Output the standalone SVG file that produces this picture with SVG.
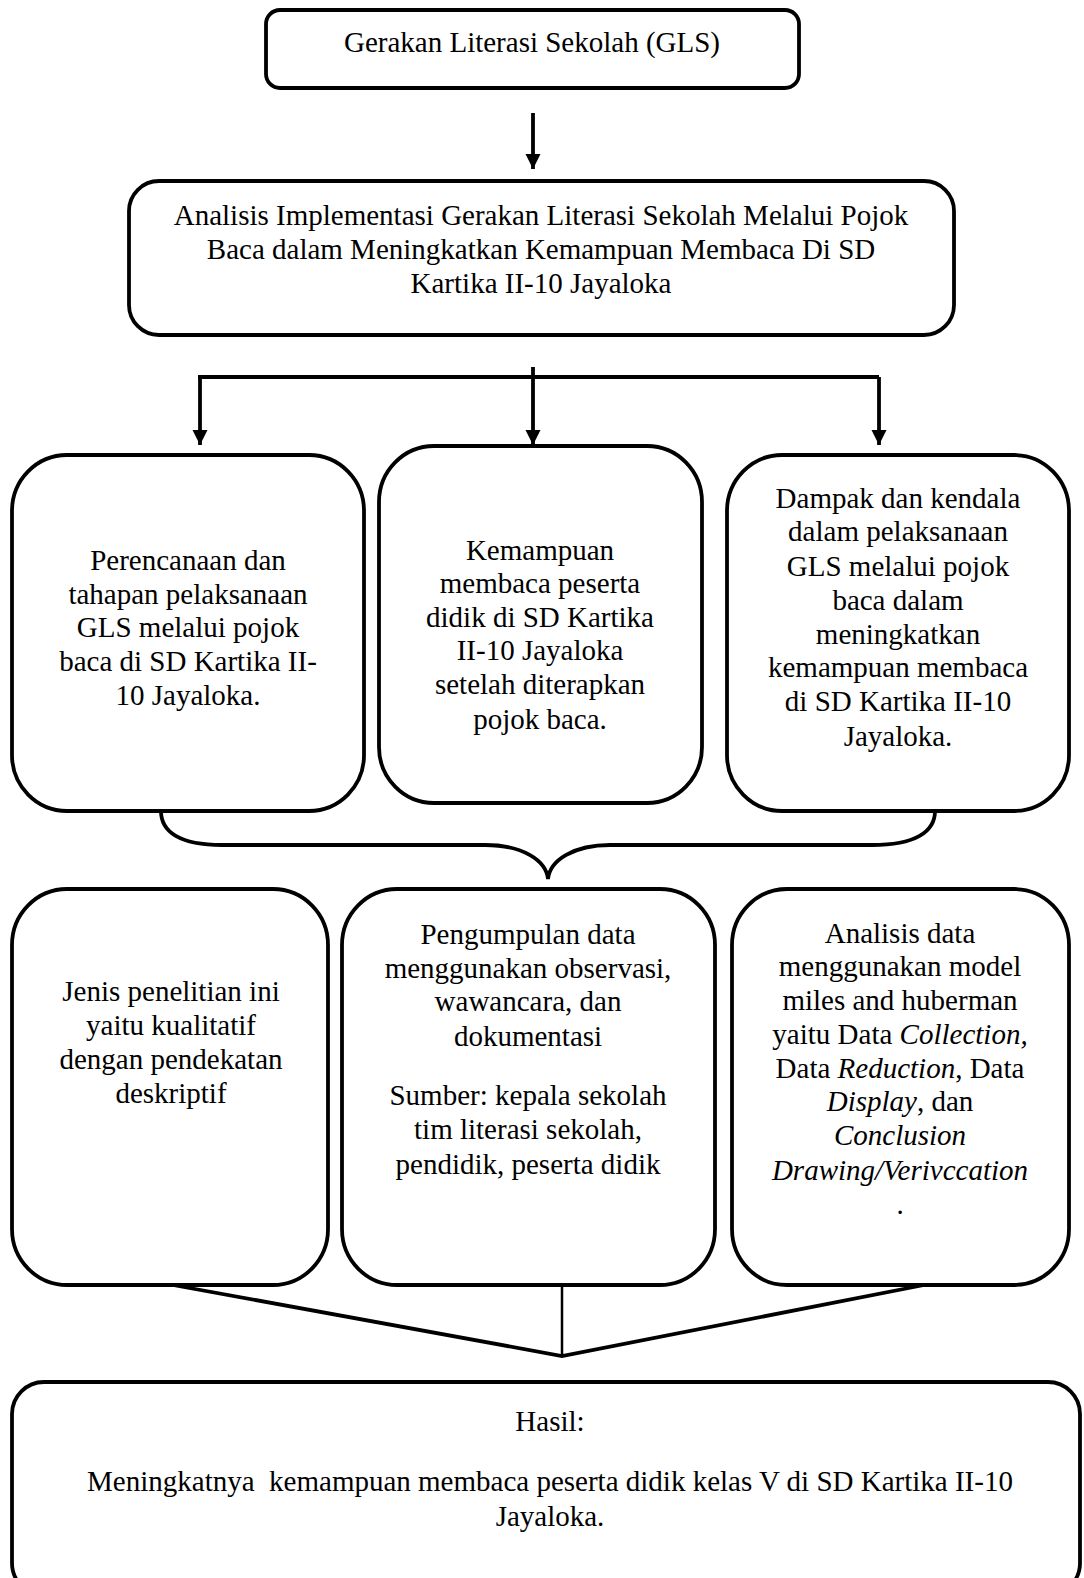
<svg xmlns="http://www.w3.org/2000/svg" width="1084" height="1578" viewBox="0 0 1084 1578">
<defs>
<style>
.box{fill:#fff;stroke:#000;stroke-width:3.8}
.ln{fill:none;stroke:#000;stroke-width:3.8}
.thin{fill:none;stroke:#000;stroke-width:2.5}
text{font-family:"Liberation Serif","Times New Roman",serif;font-size:29px;fill:#000;text-anchor:middle;white-space:pre}
.i{font-style:italic}
</style>
<marker id="arr" viewBox="0 0 10 10" refX="10" refY="5" markerWidth="4" markerHeight="4" markerUnits="strokeWidth" orient="auto">
<path d="M0,0 L10,5 L0,10 z" fill="#000"/>
</marker>
</defs>
<rect width="1084" height="1578" fill="#fff"/>

<g id="connectors">
<line class="ln" x1="533" y1="113" x2="533" y2="169" marker-end="url(#arr)"/>
<line class="ln" x1="198" y1="377" x2="879" y2="377"/>
<line class="ln" x1="533" y1="367" x2="533" y2="445" marker-end="url(#arr)"/>
<line class="ln" x1="200" y1="377" x2="200" y2="445" marker-end="url(#arr)"/>
<line class="ln" x1="879" y1="377" x2="879" y2="445" marker-end="url(#arr)"/>
<path class="ln" d="M161,811 C161,832 180,845 222,845 L485,845 C522,845 546,860 548,879 C550,860 574,845 610,845 L872,845 C915,845 935,832 935,811"/>
<polyline class="ln" points="173,1285 562,1356 924,1285"/>
<line class="thin" x1="562" y1="1285" x2="562" y2="1356"/>
</g>

<g id="n1">
<rect class="box" x="266" y="10" width="533" height="78" rx="14" ry="14"/>
<text x="532" y="52">Gerakan Literasi Sekolah (GLS)</text>
</g>

<g id="n2">
<rect class="box" x="129" y="181" width="825" height="154" rx="30" ry="30"/>
<text x="541" y="225">Analisis Implementasi Gerakan Literasi Sekolah Melalui Pojok</text>
<text x="541" y="259">Baca dalam Meningkatkan Kemampuan Membaca Di SD</text>
<text x="541" y="293">Kartika II-10 Jayaloka</text>
</g>

<g id="n3">
<rect class="box" x="12" y="455" width="352" height="356" rx="55" ry="56"/>
<text x="188" y="570">Perencanaan dan</text>
<text x="188" y="604">tahapan pelaksanaan</text>
<text x="188" y="637">GLS melalui pojok</text>
<text x="188" y="671">baca di SD Kartika II-</text>
<text x="188" y="705">10 Jayaloka.</text>
</g>

<g id="n4">
<rect class="box" x="379" y="446" width="323" height="357" rx="55" ry="56"/>
<text x="540" y="560">Kemampuan</text>
<text x="540" y="593">membaca peserta</text>
<text x="540" y="627">didik di SD Kartika</text>
<text x="540" y="660">II-10 Jayaloka</text>
<text x="540" y="694">setelah diterapkan</text>
<text x="540" y="729">pojok baca.</text>
</g>

<g id="n5">
<rect class="box" x="727" y="455" width="342" height="356" rx="55" ry="56"/>
<text x="898" y="508">Dampak dan kendala</text>
<text x="898" y="541">dalam pelaksanaan</text>
<text x="898" y="576">GLS melalui pojok</text>
<text x="898" y="610">baca dalam</text>
<text x="898" y="644">meningkatkan</text>
<text x="898" y="677">kemampuan membaca</text>
<text x="898" y="711">di SD Kartika II-10</text>
<text x="898" y="746">Jayaloka.</text>
</g>

<g id="n6">
<rect class="box" x="12" y="889" width="316" height="396" rx="55" ry="56"/>
<text x="171" y="1001">Jenis penelitian ini</text>
<text x="171" y="1035">yaitu kualitatif</text>
<text x="171" y="1069">dengan pendekatan</text>
<text x="171" y="1103">deskriptif</text>
</g>

<g id="n7">
<rect class="box" x="342" y="889" width="373" height="396" rx="55" ry="56"/>
<text x="528" y="944">Pengumpulan data</text>
<text x="528" y="978">menggunakan observasi,</text>
<text x="528" y="1011">wawancara, dan</text>
<text x="528" y="1046">dokumentasi</text>
<text x="528" y="1105">Sumber: kepala sekolah</text>
<text x="528" y="1139">tim literasi sekolah,</text>
<text x="528" y="1174">pendidik, peserta didik</text>
</g>

<g id="n8">
<rect class="box" x="732" y="889" width="337" height="396" rx="55" ry="56"/>
<text x="900" y="943">Analisis data</text>
<text x="900" y="976">menggunakan model</text>
<text x="900" y="1010">miles and huberman</text>
<text x="900" y="1044">yaitu Data <tspan class="i">Collection,</tspan></text>
<text x="900" y="1078">Data <tspan class="i">Reduction</tspan>, Data</text>
<text x="900" y="1111"><tspan class="i">Display</tspan>, dan</text>
<text x="900" y="1145" class="i">Conclusion</text>
<text x="900" y="1180" class="i">Drawing/Verivccation</text>
<text x="900" y="1214">.</text>
</g>

<g id="n9">
<rect class="box" x="12" y="1382" width="1068" height="213" rx="32" ry="32"/>
<text x="550" y="1431">Hasil:</text>
<text x="550" y="1491">Meningkatnya  kemampuan membaca peserta didik kelas V di SD Kartika II-10</text>
<text x="550" y="1526">Jayaloka.</text>
</g>
</svg>
